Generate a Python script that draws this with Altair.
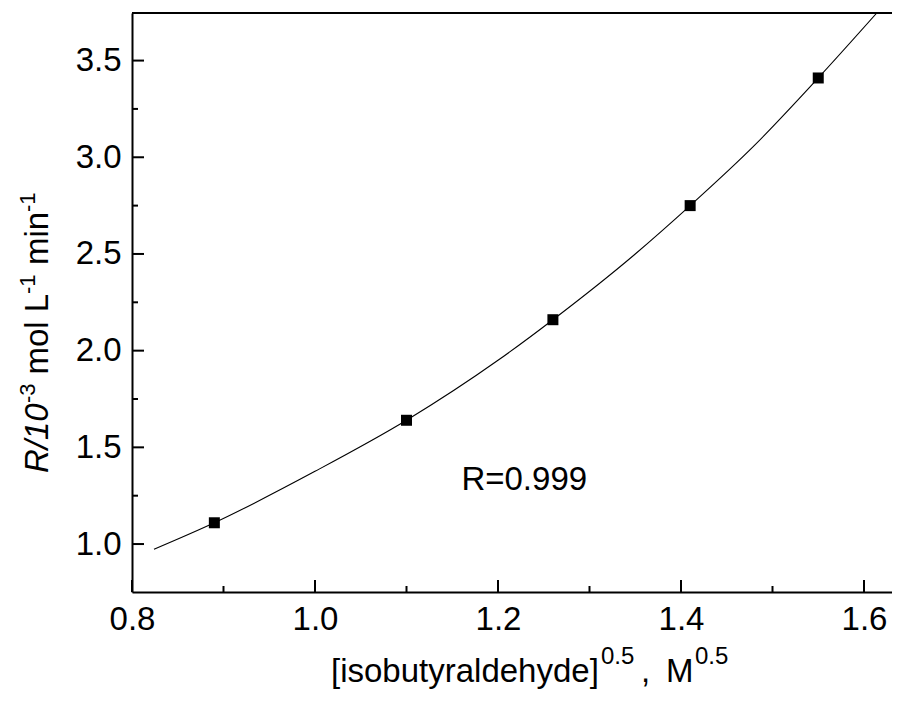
import altair as alt
import pandas as pd

# data
x_pts = [0.89, 1.10, 1.26, 1.41, 1.55]
y_pts = [1.11, 1.64, 2.16, 2.75, 3.41]

curve_x = [0.824, 0.89, 1.0, 1.1, 1.2, 1.26, 1.35, 1.41, 1.48, 1.55, 1.614]
curve_y = [0.973, 1.11, 1.376, 1.64, 1.95, 2.16, 2.50, 2.75, 3.06, 3.41, 3.746]

x_major = [0.8, 1.0, 1.2, 1.4, 1.6]
x_minor = [0.9, 1.1, 1.3, 1.5]
y_major = [1.0, 1.5, 2.0, 2.5, 3.0, 3.5]
y_minor = [1.25, 1.75, 2.25, 2.75, 3.25]

annotation = "R=0.999"
ann_x = [1.16]
ann_y = [1.28]

FONT = "Liberation Sans"
W, H = 760, 579
FS = 33
SUP = 22

xs = alt.Scale(domain=[0.8, 1.6306], nice=False, zero=False)
ys = alt.Scale(domain=[0.752, 3.746], nice=False, zero=False)

xaxis = alt.Axis(values=x_major, format=".1f", title="", grid=False, ticks=False,
                 domainColor="black", domainWidth=2, labelFont=FONT, labelFontSize=FS,
                 labelColor="black", labelPadding=11, labelFlush=False, labelOverlap=False)
yaxis = alt.Axis(values=y_major, format=".1f", title="", grid=False, ticks=False,
                 domainColor="black", domainWidth=2, labelFont=FONT, labelFontSize=FS,
                 labelColor="black", labelPadding=11, labelOverlap=False)

def X(field):
    return alt.X(field, scale=xs, axis=xaxis, title="")

def Y(field):
    return alt.Y(field, scale=ys, axis=yaxis, title="")

pts = pd.DataFrame({"x": x_pts, "y": y_pts})
crv = pd.DataFrame({"x": curve_x, "y": curve_y})

points = alt.Chart(pts).mark_point(shape="square", filled=True, size=121, color="black", opacity=1).encode(
    x=X("x:Q"), y=Y("y:Q"))
curve = alt.Chart(crv).mark_line(color="black", strokeWidth=1.1, interpolate="monotone", clip=True).encode(
    x=X("x:Q"), y=Y("y:Q"))

def xticks(vals, length):
    return alt.Chart(pd.DataFrame({"x": vals})).mark_rule(color="black", strokeWidth=2).encode(
        x=X("x:Q"), y=alt.value(H), y2=alt.value(H - length))

def yticks(vals, length):
    return alt.Chart(pd.DataFrame({"y": vals})).mark_rule(color="black", strokeWidth=2).encode(
        y=Y("y:Q"), x=alt.value(0), x2=alt.value(length))

one = pd.DataFrame({"a": [0]})
top_line = alt.Chart(one).mark_rule(color="black", strokeWidth=2).encode(
    x=alt.value(0), x2=alt.value(W), y=alt.value(0))

ann = alt.Chart(pd.DataFrame({"x": ann_x, "y": ann_y, "t": [annotation]})).mark_text(
    font=FONT, fontSize=FS, align="left", baseline="alphabetic", color="black").encode(
    x=X("x:Q"), y=Y("y:Q"), text="t:N")

def txt(s, x, y, size, angle=0, italic=False):
    kw = dict(font=FONT, fontSize=size, align="left", baseline="alphabetic", color="black", text=s)
    if angle:
        kw["angle"] = angle
    if italic:
        kw["fontStyle"] = "italic"
    return alt.Chart(one).mark_text(**kw).encode(x=alt.value(x), y=alt.value(y))

# y-axis title pieces (rotated)
ytitle = [
    txt("R/10", -84, 460, FS, 270, True),
    txt("-3", -97, 390, SUP, 270),
    txt("mol L", -84, 361.5, FS, 270),
    txt("-1", -97, 281, SUP, 270),
    txt("min", -84, 252, FS, 270),
    txt("-1", -97, 199, SUP, 270),
]
# x-axis title pieces
TB = 669
xtitle = [
    txt("[isobutyraldehyde]", 199, TB, FS),
    txt("0.5", 469, TB - 18, 24),
    txt(",", 509, TB, FS),
    txt("M", 534, TB, FS),
    txt("0.5", 563, TB - 18, 24),
]

chart = alt.layer(
    points, curve, xticks(x_major, 12), xticks(x_minor, 6), yticks(y_major, 12), yticks(y_minor, 6),
    top_line, ann, *ytitle, *xtitle
).properties(
    width=W, height=H,
    autosize=alt.AutoSizeParams(type="none"),
    padding={"left": 124, "top": 5, "right": 0, "bottom": 102},
).configure_view(stroke=None).configure(font=FONT, background="white")

chart.save("out.html", embed_options={"renderer": "svg", "actions": False})
